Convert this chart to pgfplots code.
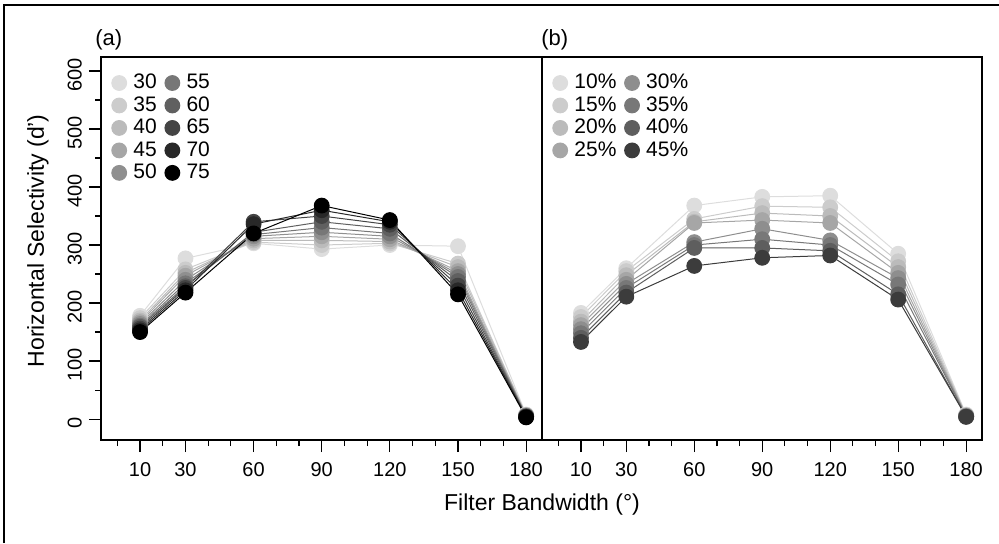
\documentclass[border=0pt]{standalone}
\usepackage{fontspec}
\setmainfont{Liberation Sans}
\usepackage{pgfplots}
\usepackage{pgfplotstable}
\pgfplotsset{compat=1.18}

% grey ramps, light -> dark
\definecolor{ga1}{HTML}{DDDDDD}
\definecolor{ga2}{HTML}{CCCCCC}
\definecolor{ga3}{HTML}{BBBBBB}
\definecolor{ga4}{HTML}{A6A6A6}
\definecolor{ga5}{HTML}{8F8F8F}
\definecolor{ga6}{HTML}{777777}
\definecolor{ga7}{HTML}{606060}
\definecolor{ga8}{HTML}{444444}
\definecolor{ga9}{HTML}{282828}
\definecolor{ga10}{HTML}{000000}

\definecolor{gb1}{HTML}{DDDDDD}
\definecolor{gb2}{HTML}{CCCCCC}
\definecolor{gb3}{HTML}{BBBBBB}
\definecolor{gb4}{HTML}{A6A6A6}
\definecolor{gb5}{HTML}{8E8E8E}
\definecolor{gb6}{HTML}{787878}
\definecolor{gb7}{HTML}{5E5E5E}
\definecolor{gb8}{HTML}{3C3C3C}

% panel (a): series by value 30..75
\pgfplotstableread{
x   s30 s35 s40 s45 s50 s55 s60 s65 s70 s75
10  178 174 170 167 164 161 159 156 153 150
30  277 258 252 247 240 234 229 226 222 218
60  303 305 308 311 315 318 322 340 336 320
90  293 300 308 315 322 330 340 350 360 368
120 300 303 306 310 315 320 328 335 340 343
150 298 268 262 255 250 245 238 230 222 215
180 8   7   7   6   6   5   5   4   4   3
}\tabA

% panel (b): series by percentage 10..45
\pgfplotstableread{
x   p10 p15 p20 p25 p30 p35 p40 p45
10  183 176 168 162 155 148 140 133
30  260 255 248 240 233 226 218 211
60  368 345 340 338 305 300 295 264
90  383 367 355 343 328 310 295 278
120 385 365 350 338 308 300 290 282
150 285 272 262 252 243 232 215 206
180 8   7   6   6   5   5   4   4
}\tabB

\pgfplotsset{
  panel/.style={
    scale only axis, height=191.5pt,
    xmin=-7.2, xmax=187, ymin=-36, ymax=624,
    xtick={10,30,60,90,120,150,180},
    minor xtick={0,20,40,50,70,80,100,110,130,140,160,170},
    xtick pos=bottom, ytick pos=left,
    tick align=outside,
    major tick length=6pt, minor tick length=3pt,
    every tick/.style={black, line width=0.6pt},
    axis line style={line width=0.7pt},
    tick label style={font=\fontsize{10}{11}\selectfont},
    xticklabel style={yshift=-1.5pt},
    /pgf/number format/assume math mode=true,
    transpose legend,
    legend cell align=left,
    legend style={draw=none, fill=none, at={(0.01,0.975)}, anchor=north west,
      font=\fontsize{10.5}{11}\selectfont, row sep=-0.8pt, column sep=1.8pt,
      nodes={inner sep=1.6pt},
      /tikz/every even column/.append style={column sep=2.5pt}},
    legend image code/.code={\draw[#1, only marks] plot coordinates {(0.2cm,0cm)};},
  },
  ser/.style={color=#1, mark=*, mark size=3.7pt, line width=0.5pt,
    mark options={fill=#1, draw=#1}},
}

\begin{document}
\begin{tikzpicture}
\path[use as bounding box] (0,0) rectangle (499.5pt,271.5pt);
\draw[line width=1.2pt] (2pt,0) -- (2pt,269pt) -- (499.5pt,269pt);

\begin{axis}[panel, width=220.5pt, at={(50.5pt,51.5pt)}, anchor=south west,
  legend columns=5,
  ytick={0,100,...,600}, minor ytick={50,150,...,550},
  yticklabel style={rotate=90, anchor=south, xshift=-2pt},
  ylabel={Horizontal Selectivity (d')},
  ylabel style={font=\fontsize{11.5}{13}\selectfont, at={(axis description cs:-0.143,0.52)}, anchor=center},
]
\addplot[ser=ga1]  table[x=x,y=s30] {\tabA}; \addlegendentry{30}
\addplot[ser=ga2]  table[x=x,y=s35] {\tabA}; \addlegendentry{35}
\addplot[ser=ga3]  table[x=x,y=s40] {\tabA}; \addlegendentry{40}
\addplot[ser=ga4]  table[x=x,y=s45] {\tabA}; \addlegendentry{45}
\addplot[ser=ga5]  table[x=x,y=s50] {\tabA}; \addlegendentry{50}
\addplot[ser=ga6]  table[x=x,y=s55] {\tabA}; \addlegendentry{55}
\addplot[ser=ga7]  table[x=x,y=s60] {\tabA}; \addlegendentry{60}
\addplot[ser=ga8]  table[x=x,y=s65] {\tabA}; \addlegendentry{65}
\addplot[ser=ga9]  table[x=x,y=s70] {\tabA}; \addlegendentry{70}
\addplot[ser=ga10] table[x=x,y=s75] {\tabA}; \addlegendentry{75}
\end{axis}

\begin{axis}[panel, width=220pt, at={(271pt,51.5pt)}, anchor=south west,
  legend columns=4,
  ytick=\empty,
]
\addplot[ser=gb1] table[x=x,y=p10] {\tabB}; \addlegendentry{10\%}
\addplot[ser=gb2] table[x=x,y=p15] {\tabB}; \addlegendentry{15\%}
\addplot[ser=gb3] table[x=x,y=p20] {\tabB}; \addlegendentry{20\%}
\addplot[ser=gb4] table[x=x,y=p25] {\tabB}; \addlegendentry{25\%}
\addplot[ser=gb5] table[x=x,y=p30] {\tabB}; \addlegendentry{30\%}
\addplot[ser=gb6] table[x=x,y=p35] {\tabB}; \addlegendentry{35\%}
\addplot[ser=gb7] table[x=x,y=p40] {\tabB}; \addlegendentry{40\%}
\addplot[ser=gb8] table[x=x,y=p45] {\tabB}; \addlegendentry{45\%}
\end{axis}

\node[anchor=west, font=\fontsize{11}{13}\selectfont, inner sep=0pt] at (47.5pt,251.5pt) {(a)};
\node[anchor=west, font=\fontsize{11}{13}\selectfont, inner sep=0pt] at (270.5pt,251.5pt) {(b)};
\node[font=\fontsize{11.5}{13}\selectfont] at (271pt,19pt) {Filter Bandwidth (°)};
\end{tikzpicture}
\end{document}
